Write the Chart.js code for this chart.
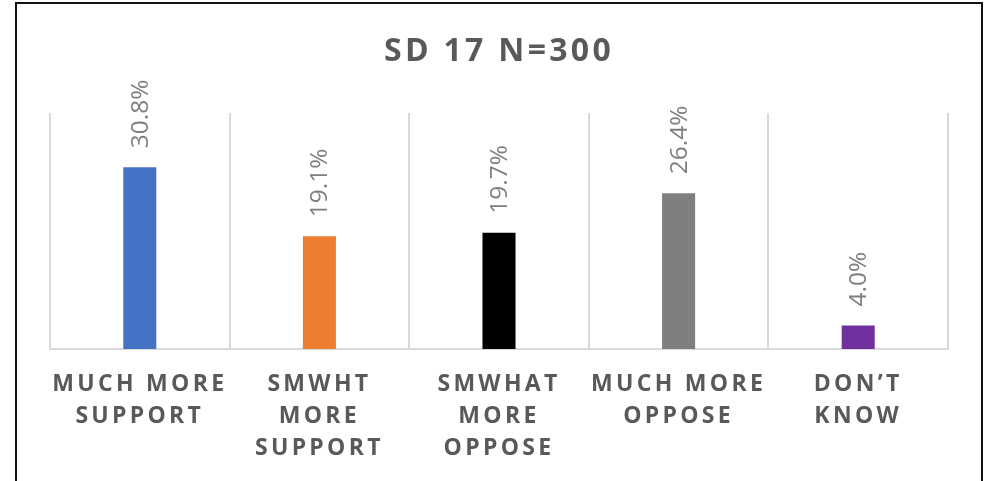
<!DOCTYPE html>
<html>
<head>
<meta charset="utf-8">
<title>SD 17 N=300</title>
<script src="https://cdn.jsdelivr.net/npm/chart.js@4/dist/chart.umd.min.js"></script>
<style>
    html, body { margin: 0; padding: 0; background: #fff; overflow: hidden; }
    #frame {
        position: absolute;
        left: 15px;
        top: 2px;
        width: 964px;
        height: 600px;
        border: 2px solid #111;
        pointer-events: none;
    }
    #survey-chart { position: absolute; left: 0; top: 0; }
</style>
</head>
<body>
<canvas id="survey-chart" width="987" height="481"></canvas>
<div id="frame"></div>
<script>
const categories = [
    ['MUCH MORE', 'SUPPORT'],
    ['SMWHT', 'MORE', 'SUPPORT'],
    ['SMWHAT', 'MORE', 'OPPOSE'],
    ['MUCH MORE', 'OPPOSE'],
    ['DON\u2019T', 'KNOW']
];
const percents = [30.8, 19.1, 19.7, 26.4, 4.0];
const barColors = ['#4472C4', '#ED7D31', '#000000', '#7F7F7F', '#7030A0'];

// rotated value labels above each bar, plus spaced caps for title and ticks
const valueLabels = {
    id: 'valueLabels',
    beforeDraw(chart) {
        chart.ctx.letterSpacing = '3.3px';
    },
    afterDatasetsDraw(chart) {
        const ctx = chart.ctx;
        const meta = chart.getDatasetMeta(0);
        ctx.save();
        ctx.letterSpacing = '0px';
        ctx.font = '24.5px "Open Sans"';
        ctx.fillStyle = '#7f7f7f';
        ctx.textAlign = 'left';
        ctx.textBaseline = 'middle';
        meta.data.forEach((bar, i) => {
            ctx.save();
            ctx.translate(bar.x + 1, bar.y - 19);
            ctx.rotate(-Math.PI / 2);
            ctx.fillText(percents[i].toFixed(1) + '%', 0, 0);
            ctx.restore();
        });
        ctx.restore();
    },
    afterDraw(chart) {
        chart.ctx.letterSpacing = '0px';
    }
};

const surveyChart = new Chart(document.getElementById('survey-chart').getContext('2d'), {
    type: 'bar',
    data: {
        labels: categories,
        datasets: [{
            label: 'SD 17',
            data: percents,
            backgroundColor: barColors,
            barPercentage: 0.184,
            categoryPercentage: 1
        }]
    },
    options: {
        responsive: false,
        animation: false,
        layout: {
            padding: { left: 50, right: 39, top: 0, bottom: 0 }
        },
        plugins: {
            legend: { display: false },
            tooltip: { enabled: false },
            title: {
                display: true,
                text: 'SD 17 N=300',
                color: '#595959',
                font: { family: '"Open Sans"', size: 32, weight: 'bold', lineHeight: 1.2 },
                padding: { top: 33, bottom: 41.6 }
            }
        },
        scales: {
            x: {
                grid: {
                    color: '#d9d9d9',
                    lineWidth: 2,
                    drawTicks: false,
                    offset: true
                },
                border: { color: '#d9d9d9', width: 2 },
                ticks: {
                    color: '#595959',
                    padding: 19,
                    maxRotation: 0,
                    autoSkip: false,
                    font: { family: '"Open Sans"', size: 23, weight: 'bold', lineHeight: '32px' }
                },
                afterFit(scale) {
                    scale.height = 132;
                }
            },
            y: {
                display: false,
                min: 0,
                max: 40
            }
        }
    },
    plugins: [valueLabels]
});
</script>
</body>
</html>
